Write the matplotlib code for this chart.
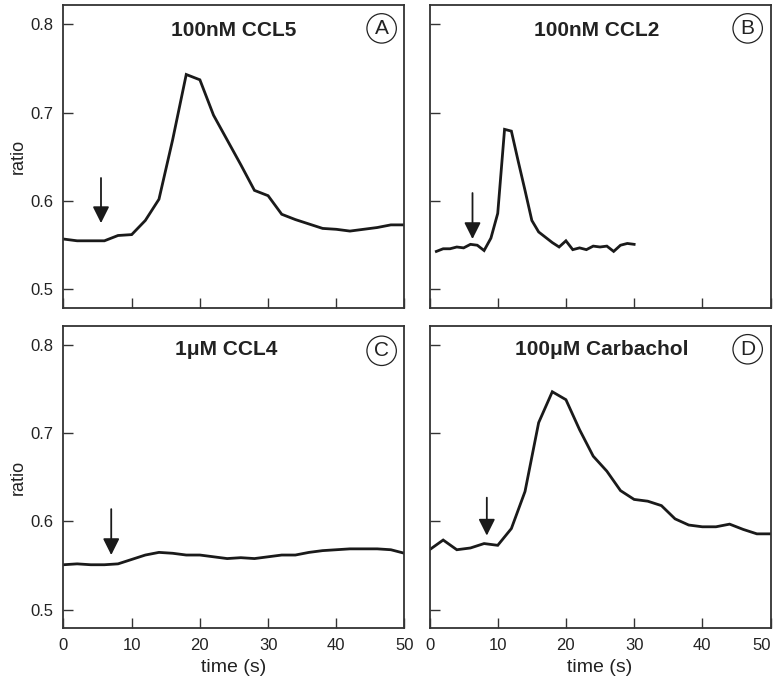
import matplotlib
matplotlib.use("Agg")
import matplotlib.pyplot as plt

plt.rcParams['font.family'] = ['Liberation Sans', 'DejaVu Sans']

# panel A: 100nM CCL5, sampled every 2 s
t_a = list(range(0, 51, 2))
ratio_a = [0.557, 0.555, 0.555, 0.555, 0.561, 0.562, 0.578, 0.602, 0.669, 0.743,
           0.737, 0.697, 0.669, 0.641, 0.612, 0.606, 0.585, 0.579, 0.574, 0.569,
           0.568, 0.566, 0.568, 0.570, 0.573, 0.573]

# panel B: 100nM CCL2, sampled every 1 s
t_b = list(range(1, 31))
ratio_b = [0.543, 0.546, 0.546, 0.548, 0.547, 0.551, 0.550, 0.544, 0.558, 0.586,
           0.681, 0.679, 0.645, 0.612, 0.578, 0.565, 0.559, 0.553, 0.548, 0.555,
           0.545, 0.547, 0.545, 0.549, 0.548, 0.549, 0.543, 0.550, 0.552, 0.551]

# panel C: 1uM CCL4
t_c = list(range(0, 51, 2))
ratio_c = [0.551, 0.552, 0.551, 0.551, 0.552, 0.557, 0.562, 0.565, 0.564, 0.562,
           0.562, 0.560, 0.558, 0.559, 0.558, 0.560, 0.562, 0.562, 0.565, 0.567,
           0.568, 0.569, 0.569, 0.569, 0.568, 0.564]

# panel D: 100uM Carbachol
t_d = list(range(0, 51, 2))
ratio_d = [0.568, 0.579, 0.568, 0.570, 0.575, 0.573, 0.592, 0.634, 0.712, 0.747,
           0.738, 0.704, 0.674, 0.657, 0.635, 0.625, 0.623, 0.618, 0.603, 0.596,
           0.594, 0.594, 0.597, 0.591, 0.586, 0.586]

titles = ['100nM CCL5', '100nM CCL2', '1\u03bcM CCL4', '100\u03bcM Carbachol']
letters = ['A', 'B', 'C', 'D']
# arrow (time, tail ratio, tip ratio) marking stimulus addition
arrows = [(5.5, 0.626, 0.575), (6.3, 0.609, 0.557), (7.0, 0.614, 0.562), (8.4, 0.627, 0.584)]

x_ticks = [0, 10, 20, 30, 40, 50]
x_labels = ['0', '10', '20', '30', '40', '50']
y_ticks = [0.5, 0.6, 0.7, 0.8]
y_labels = ['0.5', '0.6', '0.7', '0.8']

LINE = '#1a1a1a'
TXT = '#222222'

fig = plt.figure(figsize=(7.78, 6.83), dpi=100)
rects = [[0.0816, 0.549, 0.4383, 0.4436], [0.5521, 0.549, 0.4383, 0.4436],
         [0.0816, 0.0801, 0.4383, 0.4426], [0.5521, 0.0801, 0.4383, 0.4426]]
series = [(t_a, ratio_a), (t_b, ratio_b), (t_c, ratio_c), (t_d, ratio_d)]
title_x = [0.50, 0.49, 0.478, 0.504]
title_y = [0.898, 0.898, 0.904, 0.904]
circ_y = [0.923, 0.923, 0.918, 0.923]

for i in range(4):
    ax = fig.add_axes(rects[i])
    t, r = series[i]
    ax.plot(t, r, color=LINE, lw=2.0, solid_joinstyle='miter')
    ax.set_xlim(0, 50)
    ax.set_ylim(0.479, 0.8215)
    ax.set_xticks(x_ticks)
    ax.set_yticks(y_ticks)
    ax.tick_params(direction='in', length=7.5, width=1.0, color='#333333',
                   labelsize=12, pad=7, labelcolor=TXT)
    for s in ax.spines.values():
        s.set_linewidth(1.3)
        s.set_color('#333333')
    if i < 2:
        ax.tick_params(labelbottom=False)
    else:
        ax.set_xticklabels(x_labels)
        ax.set_xlabel('time (s)', fontsize=14, labelpad=4, color=TXT)
        if i == 3:
            # last label sits against the figure edge, right-aligned to its tick
            ax.get_xticklabels()[-1].set_horizontalalignment('right')
    if i % 2 == 1:
        ax.tick_params(labelleft=False)
    else:
        ax.set_yticklabels(y_labels)
        ax.set_ylabel('ratio', fontsize=13, labelpad=3, color=TXT)

    ax.text(title_x[i], title_y[i], titles[i], transform=ax.transAxes,
            ha='center', va='baseline', fontsize=15, fontweight='bold', color=TXT)
    ax.text(0.933, circ_y[i], letters[i], transform=ax.transAxes,
            ha='center', va='center', fontsize=15, color=TXT,
            bbox=dict(boxstyle='circle,pad=0.25', fc='white', ec=TXT, lw=0.9))

    ax_x, y0, y1 = arrows[i]
    ax.annotate('', xy=(ax_x, y1), xytext=(ax_x, y0),
                arrowprops=dict(arrowstyle='-|>,head_length=0.5,head_width=0.25',
                                mutation_scale=20, color=LINE, lw=1.3,
                                shrinkA=0, shrinkB=0))

fig.savefig('out.png', dpi=100)
